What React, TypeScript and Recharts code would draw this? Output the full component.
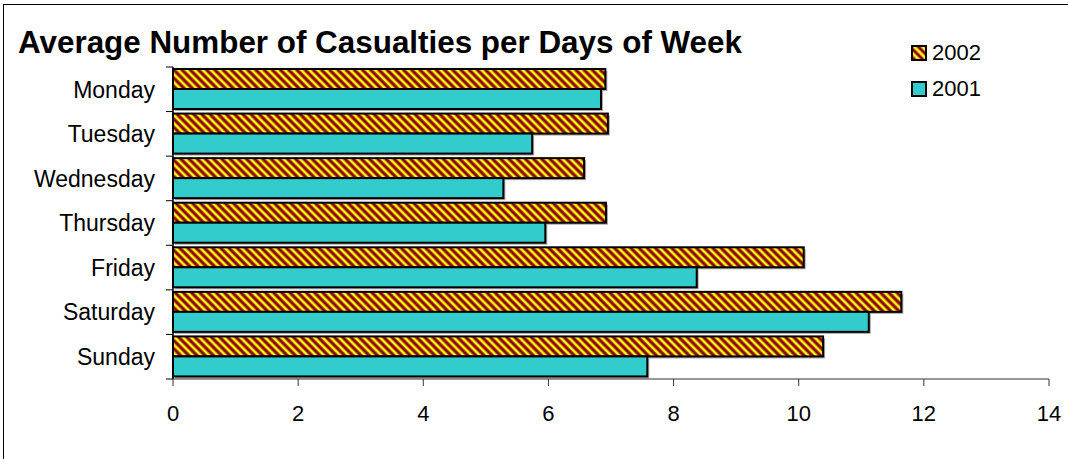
import { Bar, BarChart, Legend, XAxis, YAxis } from "recharts";

const days = ["Monday", "Tuesday", "Wednesday", "Thursday", "Friday", "Saturday", "Sunday"];
const seriesNames = ["2002", "2001"];
const values2002 = [6.91, 6.95, 6.57, 6.92, 10.08, 11.64, 10.39];
const values2001 = [6.84, 5.74, 5.28, 5.95, 8.37, 11.12, 7.58];
const xTicks = [0, 2, 4, 6, 8, 10, 12, 14];

const W = 1068;
const H = 459;
const MARGIN = { top: 67, right: 19, bottom: 0, left: 0 };
const X_AXIS_H = 80;
const Y_AXIS_W = 173;
const FONT = '"Liberation Sans", Arial, sans-serif';
const BAND = (H - MARGIN.top - MARGIN.bottom - X_AXIS_H) / days.length;

const chartData = days.map((day, i) => ({
  day,
  y2002: values2002[i],
  y2001: values2001[i],
}));

// bar with a black outline and a soft grey drop shadow
function ShadowBar(props: any) {
  const { x, y, width, height, fill } = props;
  if (!width || width <= 0) return null;
  return (
    <g>
      <rect x={x + 2} y={y + 2} width={width} height={height} fill="#a8a8a8" />
      <rect x={x} y={y} width={width} height={height} fill={fill} stroke="#000" strokeWidth={2} />
    </g>
  );
}

// category label plus tick marks between the categories
function DayTick(props: any) {
  const { x, y, payload, index } = props;
  const axisX = x + 11 + 7;
  return (
    <g>
      <line x1={axisX - 7} x2={axisX} y1={y - BAND / 2} y2={y - BAND / 2} stroke="#000" />
      {index === days.length - 1 && (
        <line x1={axisX - 7} x2={axisX} y1={y + BAND / 2} y2={y + BAND / 2} stroke="#000" />
      )}
      <text x={x} y={y} dy="0.36em" textAnchor="end" fill="#000" fontSize={23} fontFamily={FONT}>
        {payload.value}
      </text>
    </g>
  );
}

function LegendBox({ payload }: any) {
  const items = [...(payload || [])].sort(
    (a: any, b: any) => seriesNames.indexOf(String(a.value)) - seriesNames.indexOf(String(b.value))
  );
  return (
    <div style={{ fontFamily: FONT, fontSize: 22, color: "#000" }}>
      {items.map((entry: any) => (
        <div key={entry.value} style={{ display: "flex", alignItems: "center", height: 36 }}>
          <svg width={16} height={16} style={{ marginRight: 5 }}>
            <rect x={1} y={1} width={14} height={14} fill={entry.color} stroke="#000" strokeWidth={2} />
          </svg>
          <span>{entry.value}</span>
        </div>
      ))}
    </div>
  );
}

export default function App() {
  return (
    <div style={{ position: "absolute", left: 0, top: 0, width: W, height: H, background: "#fff" }}>
      <div
        style={{
          position: "absolute",
          left: 3,
          top: 4,
          right: 0,
          bottom: 0,
          borderLeft: "1px solid #000",
          borderTop: "1px solid #000",
        }}
      />
      <div
        style={{
          position: "absolute",
          left: 18,
          top: 27,
          fontFamily: FONT,
          fontWeight: "bold",
          fontSize: 31.4,
          lineHeight: "31px",
          whiteSpace: "nowrap",
          color: "#000",
          zIndex: 2,
        }}
      >
        Average Number of Casualties per Days of Week
      </div>
      <BarChart
        width={W}
        height={H}
        data={chartData}
        layout="vertical"
        margin={MARGIN}
        barSize={20}
        barGap={0}
      >
        <defs>
          <pattern
            id="stripes2002"
            patternUnits="userSpaceOnUse"
            width={5.8}
            height={5.8}
            patternTransform="rotate(-45)"
          >
            <rect x={0} y={0} width={2.2} height={5.8} fill="#ffff00" />
            <rect x={2.2} y={0} width={0.5} height={5.8} fill="#c84800" />
            <rect x={2.7} y={0} width={2.6} height={5.8} fill="#8b0000" />
            <rect x={5.3} y={0} width={0.5} height={5.8} fill="#c84800" />
          </pattern>
        </defs>
        <XAxis
          type="number"
          domain={[0, 14]}
          ticks={xTicks}
          height={X_AXIS_H}
          tickSize={7}
          tickMargin={19}
          axisLine={{ stroke: "#333" }}
          tickLine={{ stroke: "#333" }}
          tick={{ fill: "#000", fontSize: 22, fontFamily: FONT }}
        />
        <YAxis
          type="category"
          dataKey="day"
          width={Y_AXIS_W}
          tickSize={7}
          tickMargin={11}
          tickLine={false}
          axisLine={{ stroke: "#000", strokeWidth: 1.5 }}
          tick={<DayTick />}
          interval={0}
        />
        <Legend
          layout="vertical"
          align="center"
          verticalAlign="middle"
          content={<LegendBox />}
          wrapperStyle={{ position: "absolute", left: 911, top: 35, width: 120 }}
        />
        <Bar dataKey="y2002" name="2002" fill="url(#stripes2002)" shape={<ShadowBar />} isAnimationActive={false} />
        <Bar dataKey="y2001" name="2001" fill="#33cccc" shape={<ShadowBar />} isAnimationActive={false} />
      </BarChart>
    </div>
  );
}
